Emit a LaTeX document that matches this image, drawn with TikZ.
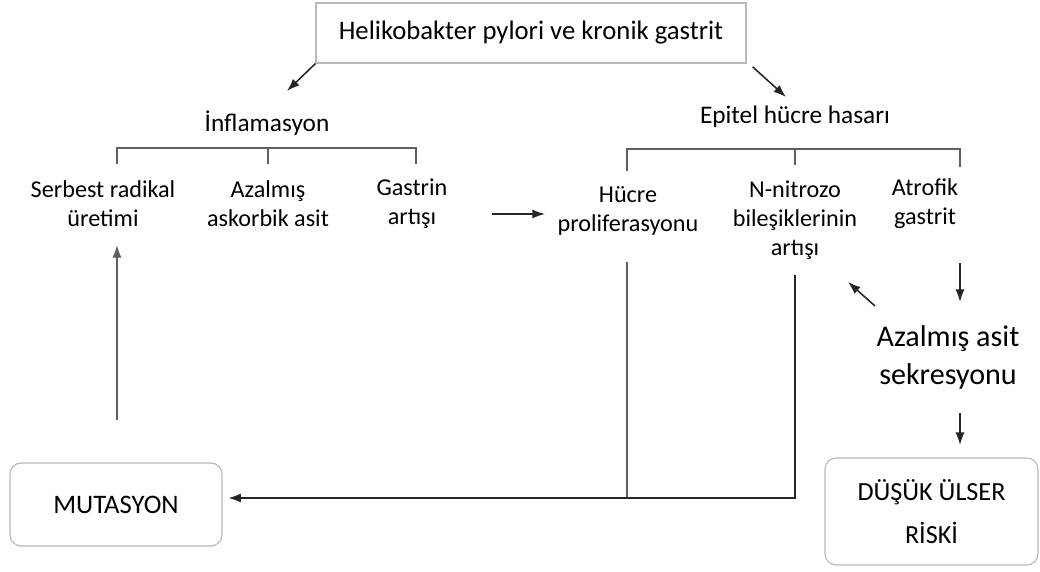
\documentclass[tikz,border=0pt]{standalone}
\usepackage{fontspec}
\setmainfont{Carlito}
\usetikzlibrary{arrows.meta}
\begin{document}
\begin{tikzpicture}
\tikzstyle{every path}=[line width=1.5pt,gray!75!black]
\tikzstyle{lbl}=[align=center,text=black,font=\fontsize{17.2}{20.5}\selectfont]
\tikzstyle{box}=[draw=gray!55,line width=0.8pt,rounded corners=8pt,text=black]
\tikzstyle{arr}=[-{Latex[length=9pt,width=6.5pt]},black!85,line width=1.1pt]
\useasboundingbox (0,0) rectangle (26,14.275);
%
\node[draw=gray!55,line width=0.8pt,minimum width=10.75cm,minimum height=1.5cm,text=black,
  font=\fontsize{19}{22}\selectfont] at (13.275,13.45) (H) {Helikobakter pylori ve kronik gastrit};
\node[lbl,font=\fontsize{18}{21}\selectfont] at (6.675,11.2) (I) {İnflamasyon};
\node[lbl,font=\fontsize{18}{21}\selectfont] at (19.875,11.35) (E) {Epitel hücre hasarı};
\coordinate (Ie) at (7.175,12.0);
\coordinate (Ee) at (19.65,11.85);
\draw[arr] (H.south west) -- (Ie);
\draw[arr] ([shift={(0.15,-0.08)}]H.south east) -- (Ee);
%
\node[lbl] at (2.575,9.175) (S) {Serbest radikal\\üretimi};
\node[lbl] at (6.7,9.175) (A) {Azalmış\\askorbik asit};
\node[lbl] at (10.3,9.175) (G) {Gastrin\\artışı};
\node[lbl] at (15.7,9.0) (P) {Hücre\\proliferasyonu};
\node[lbl] at (19.875,8.775) (N) {N-nitrozo\\bileşiklerinin\\artışı};
\node[lbl] at (23.125,9.175) (T) {Atrofik\\gastrit};
\node[lbl,font=\fontsize{21.4}{27}\selectfont] at (23.7,5.35) (K) {Azalmış asit\\sekresyonu};
%
\node[box,minimum width=5.3cm,minimum height=2.075cm,font=\fontsize{19}{22}\selectfont]
  at (2.9,1.6625) (M) {MUTASYON};
\node[box,minimum width=5.325cm,minimum height=2.675cm,align=center,
  font=\fontsize{18.6}{31}\selectfont] at (23.2875,1.4875) (D) {DÜŞÜK ÜLSER\\RİSKİ};
%
% brackets
\draw (2.925,10.175) |- (10.4,10.575) -- (10.4,10.175);
\draw (6.7,10.575) -- (6.7,10.175);
\draw (15.675,10.0) |- (24.0,10.55) -- (24.0,10.1);
\draw (19.875,10.55) -- (19.875,10.15);
%
\draw[arr] (12.3,8.925) -- (13.625,8.925);
\coordinate (P1) at (15.675,7.725);
\coordinate (P2) at (15.675,1.825);
\coordinate (N1) at (19.875,7.4);
\path ([xshift=4pt]M.east) coordinate (Mx);
\draw (P1) -- (P2);
\draw[arr,line width=1.5pt] (N1) |- (Mx |- P2);
\coordinate (M1) at (2.925,3.775);
\draw[arr,gray!75!black] (M1) -- (2.925,8.15);
\draw[arr] (24.0,7.7) -- (24.0,6.725);
\draw[arr] (21.875,6.625) -- (21.2,7.225);
\draw[arr] (24.0,3.95) -- (24.0,3.15);
\end{tikzpicture}
\end{document}
